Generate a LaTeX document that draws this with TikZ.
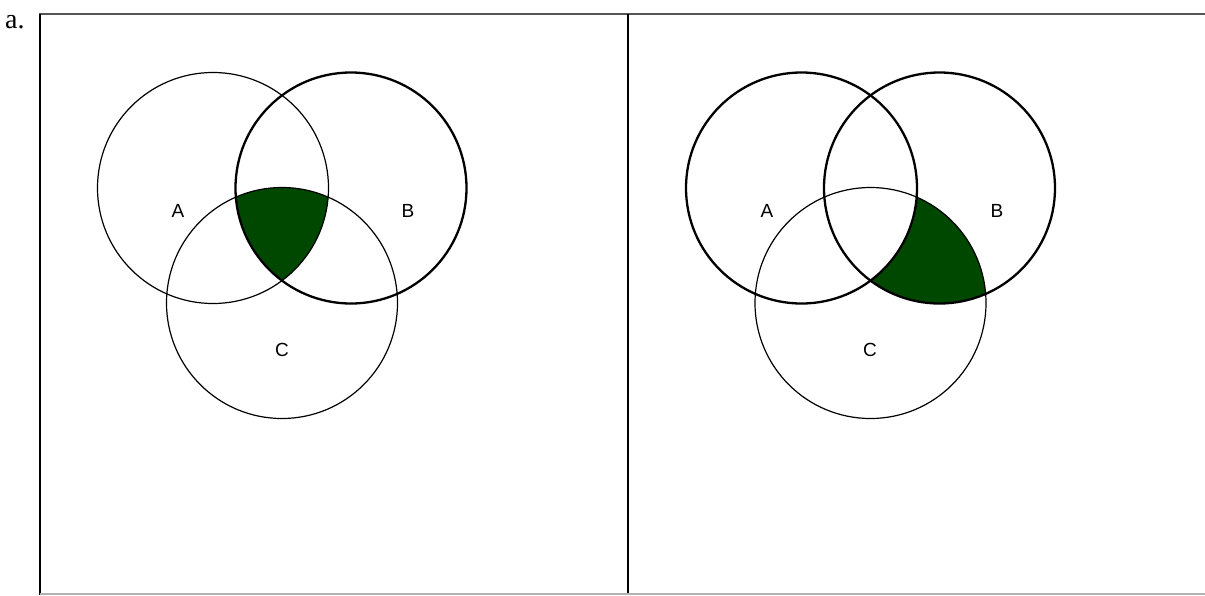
\documentclass[tikz,border=0pt]{standalone}
\usepackage{fontspec}
\setmainfont{Liberation Serif}
\setsansfont{Liberation Sans}
\usepackage{tikz}
\definecolor{vennfill}{RGB}{0,72,0}
\definecolor{framegray}{RGB}{85,85,85}

\begin{document}
\begin{tikzpicture}[x=1pt, y=-1pt,
	set/.style={line width=1.2pt},
	setbold/.style={line width=2.3pt},
	setlabel/.style={font=\sffamily\fontsize{19}{19}\selectfont, inner sep=0pt}]
		\useasboundingbox (0,0) rectangle (1205,595);

		% Frame
		\node[font=\fontsize{28}{28}\selectfont, anchor=base west, inner sep=0pt] (tag) at (5,28) {a.};
		\draw[framegray, line width=2pt] (39,14) -- (1205,14);
		\draw[line width=2pt] (40,14) -- (40,595);
		\draw[line width=2pt] (628,14) -- (628,595);
		\draw[black!30, line width=1.2pt] (40,594) -- (1205,594);

		% Left: A and B and C
		\begin{scope}
			\clip (213,188) circle (115.5);
			\clip (351,188) circle (115.5);
			\fill[vennfill] (282,303) circle (115.5);
		\end{scope}
		\draw[set] (213,188) circle (115.5);
		\draw[setbold] (351,188) circle (115.5);
		\draw[set] (282,303) circle (115.5);
		\node[setlabel] (la) at (178,211) {A};
		\node[setlabel] (lb) at (408,211) {B};
		\node[setlabel] (lc) at (282,350) {C};

		% Right: B and C, not A
		\begin{scope}
			\clip (939.5,188) circle (115.5);
			\clip (870.5,303) circle (115.5);
			\fill[vennfill] (870.5,303) circle (115.5);
			\fill[white] (801.5,188) circle (115.5);
		\end{scope}
		\draw[setbold] (801.5,188) circle (115.5);
		\draw[setbold] (939.5,188) circle (115.5);
		\draw[set] (870.5,303) circle (115.5);
		\node[setlabel] (ra) at (767,211) {A};
		\node[setlabel] (rb) at (997,211) {B};
		\node[setlabel] (rc) at (870,350) {C};
	\end{tikzpicture}
\end{document}
